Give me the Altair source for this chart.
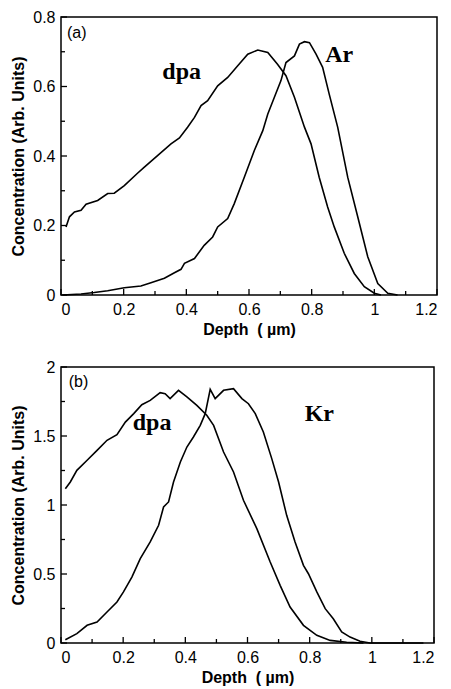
import altair as alt
import pandas as pd

# ---------------- Panel (a) data ----------------
a_dpa_x = [0.016, 0.027, 0.043, 0.064, 0.08, 0.117, 0.149, 0.17, 0.202, 0.245, 0.266, 0.309,
           0.351, 0.378, 0.404, 0.426, 0.447, 0.468, 0.5, 0.532, 0.564, 0.596, 0.628, 0.66,
           0.691, 0.718, 0.745, 0.777, 0.798, 0.824, 0.851, 0.872, 0.904, 0.936, 0.968, 1.0, 1.021]
a_dpa_y = [0.196, 0.225, 0.239, 0.244, 0.261, 0.272, 0.292, 0.293, 0.315, 0.351, 0.368, 0.402,
           0.435, 0.452, 0.483, 0.511, 0.545, 0.559, 0.602, 0.626, 0.66, 0.693, 0.705, 0.698,
           0.664, 0.631, 0.569, 0.483, 0.435, 0.339, 0.253, 0.196, 0.12, 0.062, 0.024, 0.005, 0.0]

a_ar_x = [0.005, 0.064, 0.106, 0.149, 0.202, 0.255, 0.287, 0.33, 0.362, 0.383, 0.394, 0.426,
          0.457, 0.484, 0.5, 0.532, 0.553, 0.585, 0.617, 0.644, 0.66, 0.681, 0.702, 0.718,
          0.745, 0.761, 0.777, 0.793, 0.814, 0.835, 0.856, 0.883, 0.915, 0.947, 0.979, 1.011,
          1.043, 1.074]
a_ar_y = [0.0, 0.003, 0.007, 0.012, 0.021, 0.026, 0.035, 0.048, 0.064, 0.074, 0.091, 0.105,
          0.143, 0.167, 0.196, 0.22, 0.263, 0.339, 0.416, 0.473, 0.521, 0.569, 0.617, 0.669,
          0.688, 0.722, 0.729, 0.726, 0.693, 0.655, 0.578, 0.483, 0.339, 0.225, 0.11, 0.033,
          0.005, 0.0]

# ---------------- Panel (b) data ----------------
b_dpa_x = [0.014, 0.03, 0.051, 0.084, 0.116, 0.148, 0.18, 0.207, 0.234, 0.26, 0.287, 0.319,
           0.335, 0.351, 0.378, 0.405, 0.437, 0.469, 0.491, 0.523, 0.555, 0.587, 0.63, 0.673,
           0.705, 0.737, 0.78, 0.823, 0.866, 0.919, 0.973]
b_dpa_y = [1.118, 1.167, 1.251, 1.324, 1.396, 1.469, 1.51, 1.601, 1.662, 1.727, 1.758, 1.814,
           1.807, 1.771, 1.831, 1.783, 1.722, 1.65, 1.577, 1.384, 1.239, 1.034, 0.829, 0.587,
           0.418, 0.261, 0.128, 0.056, 0.019, 0.005, 0.0]

b_kr_x = [0.014, 0.051, 0.084, 0.116, 0.148, 0.18, 0.201, 0.228, 0.255, 0.287, 0.314, 0.33,
          0.346, 0.362, 0.384, 0.405, 0.426, 0.448, 0.464, 0.48, 0.496, 0.523, 0.555, 0.582,
          0.603, 0.625, 0.651, 0.678, 0.7, 0.726, 0.753, 0.78, 0.796, 0.823, 0.85, 0.876,
          0.903, 0.93, 0.962, 0.994, 1.166]
b_kr_y = [0.024, 0.068, 0.128, 0.152, 0.225, 0.297, 0.37, 0.478, 0.611, 0.732, 0.853, 0.986,
          1.022, 1.167, 1.312, 1.42, 1.493, 1.577, 1.662, 1.838, 1.771, 1.831, 1.843, 1.771,
          1.734, 1.662, 1.529, 1.336, 1.167, 0.925, 0.732, 0.563, 0.502, 0.37, 0.249, 0.176,
          0.08, 0.043, 0.012, 0.0, 0.0]

# Tick values
x_major = [0, 0.2, 0.4, 0.6, 0.8, 1, 1.2]
x_minor = [0.1, 0.3, 0.5, 0.7, 0.9, 1.1]
a_y_major = [0, 0.2, 0.4, 0.6, 0.8]
a_y_minor = [0.1, 0.3, 0.5, 0.7]
b_y_major = [0, 0.5, 1, 1.5, 2]
b_y_minor = [0.25, 0.75, 1.25, 1.75]

# Annotations: text, x, y
a_notes_text = ["(a)", "dpa", "Ar"]
a_notes_x = [0.019, 0.385, 0.888]
a_notes_y = [0.755, 0.621, 0.671]
b_notes_text = ["(b)", "dpa", "Kr"]
b_notes_x = [0.025, 0.293, 0.831]
b_notes_y = [1.891, 1.541, 1.606]

MAJOR_LEN = 6
MINOR_LEN = 4


def long_df(pairs):
    rows = []
    for name, xs, ys in pairs:
        for i, (x, y) in enumerate(zip(xs, ys)):
            rows.append({"series": name, "depth": x, "conc": y, "order": i})
    return pd.DataFrame(rows)


def panel(df, notes, ydom, ymaj, ymin, w, h):
    xs = alt.Scale(domain=[0, 1.2], nice=False, zero=False)
    ys = alt.Scale(domain=ydom, nice=False, zero=False)
    xax = alt.Axis(values=x_major, format="~g", title="Depth\u00a0 ( µm)", orient="bottom",
                   ticks=False, labelPadding=6, titlePadding=4)
    yax = alt.Axis(values=ymaj, format="~g", title="Concentration (Arb. Units)", orient="left",
                   ticks=False, labelPadding=6, titlePadding=6)

    lines = alt.Chart(df).mark_line(color="black", strokeWidth=1.6).encode(
        x=alt.X("depth:Q", scale=xs, axis=xax),
        y=alt.Y("conc:Q", scale=ys, axis=yax),
        detail="series:N",
        order="order:Q",
    )

    # inward tick marks drawn through the same scales
    xt_major = alt.Chart(pd.DataFrame({"depth": x_major})).mark_rule(
        color="black", strokeWidth=1.3).encode(
        x=alt.X("depth:Q", scale=xs, axis=xax),
        y=alt.value(h), y2=alt.value(h - MAJOR_LEN))
    xt_minor = alt.Chart(pd.DataFrame({"depth": x_minor})).mark_rule(
        color="black", strokeWidth=1.3).encode(
        x=alt.X("depth:Q", scale=xs, axis=xax),
        y=alt.value(h), y2=alt.value(h - MINOR_LEN))
    yt_major = alt.Chart(pd.DataFrame({"conc": ymaj})).mark_rule(
        color="black", strokeWidth=1.3).encode(
        y=alt.Y("conc:Q", scale=ys, axis=yax),
        x=alt.value(0), x2=alt.value(MAJOR_LEN))
    yt_minor = alt.Chart(pd.DataFrame({"conc": ymin})).mark_rule(
        color="black", strokeWidth=1.3).encode(
        y=alt.Y("conc:Q", scale=ys, axis=yax),
        x=alt.value(0), x2=alt.value(MINOR_LEN))

    tx, ty, tt = notes
    ndf = pd.DataFrame({"depth": tx, "conc": ty, "t": tt})
    label_panel = alt.Chart(ndf.iloc[[0]]).mark_text(
        align="left", baseline="middle", font="Liberation Sans", fontSize=16, color="black"
    ).encode(
        x=alt.X("depth:Q", scale=xs, axis=xax),
        y=alt.Y("conc:Q", scale=ys, axis=yax),
        text="t:N",
    )
    label_series = alt.Chart(ndf.iloc[1:]).mark_text(
        align="center", baseline="alphabetic", font="Liberation Serif", fontSize=24,
        fontWeight="bold", color="black"
    ).encode(
        x=alt.X("depth:Q", scale=xs, axis=xax),
        y=alt.Y("conc:Q", scale=ys, axis=yax),
        text="t:N",
    )
    return alt.layer(lines, xt_major, xt_minor, yt_major, yt_minor,
                     label_panel, label_series).properties(width=w, height=h)


df_a = long_df([("dpa", a_dpa_x, a_dpa_y), ("Ar", a_ar_x, a_ar_y)])
df_b = long_df([("dpa", b_dpa_x, b_dpa_y), ("Kr", b_kr_x, b_kr_y)])

pa = panel(df_a, (a_notes_x, a_notes_y, a_notes_text), [0, 0.8], a_y_major, a_y_minor, 376, 278)
pb = panel(df_b, (b_notes_x, b_notes_y, b_notes_text), [0, 2], b_y_major, b_y_minor, 373, 276)

chart = alt.vconcat(pa, pb, spacing=20).properties(
    padding={"left": 2, "top": 0, "right": 0, "bottom": 0},
    background="white",
).configure_view(
    stroke="black", strokeWidth=1.5
).configure_axis(
    domain=False,
    grid=False,
    labelFont="Liberation Sans",
    labelFontSize=16,
    labelColor="black",
    titleFont="Liberation Sans",
    titleFontSize=16,
    titleFontWeight="bold",
    titleColor="black",
)

chart.save("out.html", embed_options={"renderer": "svg", "actions": False})
